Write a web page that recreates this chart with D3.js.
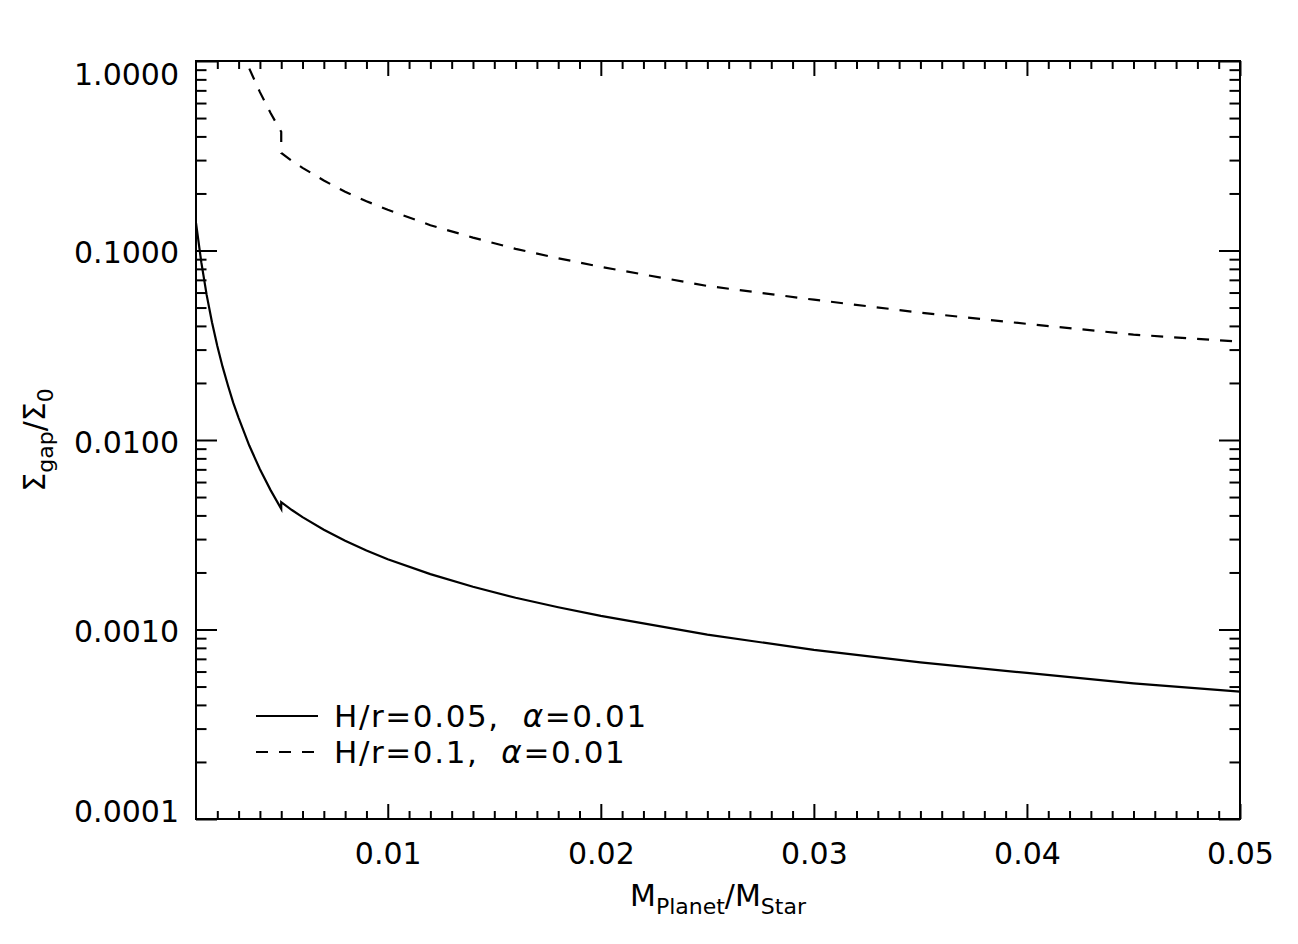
<!DOCTYPE html>
<html><head><meta charset="utf-8">
<script src="https://cdn.jsdelivr.net/npm/d3@7"></script>
<style>
body{margin:0;background:#fff}
text{font-family:"DejaVu Sans",sans-serif;fill:#000}
</style>
</head><body>
<svg id="chart" width="1298" height="944"></svg>
<script>
// ---- data ----
const qValues = [0.001,0.00125,0.0015,0.00175,0.002,0.00225,0.0025,0.00275,0.003,0.0035,0.004,0.0045,0.005,
                 0.005,0.0055,0.006,0.007,0.008,0.009,0.010,0.012,0.014,0.016,0.018,0.020,0.025,0.030,0.035,0.040,0.045,0.050];
const solidValues = [0.140,0.0865,0.0583,0.0418,0.0313,0.0243,0.0194,0.0157,0.0131,0.00935,0.00701,0.00544,0.00433,
                     0.00470,0.00427,0.00392,0.00336,0.00294,0.00261,0.00235,0.00196,0.00168,0.00147,0.00131,0.00118,0.00094,0.00078,0.00067,0.00059,0.00052,0.00047];
const dashedValues = [null,null,null,null,null,null,null,1.54,1.275,0.913,0.685,0.531,0.423,
                      0.327,0.297,0.273,0.234,0.204,0.182,0.164,0.136,0.117,0.102,0.091,0.082,0.065,0.055,0.047,0.041,0.036,0.033];
const xTickValues = [0.01,0.02,0.03,0.04,0.05];
const xTickLabels = ["0.01","0.02","0.03","0.04","0.05"];
const yTickValues = [0.0001,0.001,0.01,0.1,1];
const yTickLabels = ["0.0001","0.0010","0.0100","0.1000","1.0000"];
const legendPrefix = ["H/r=0.05,  ","H/r=0.1,  "];
const legendSuffix = ["=0.01","=0.01"];

// ---- layout ----
const L=196, R=1240, T=61, B=819;
const svg = d3.select("#chart");
const x = d3.scaleLinear().domain([0.001,0.05]).range([L,R]);
const y = d3.scaleLog().domain([0.0001,1]).range([B,T]);

const xMinor = d3.range(2,50).map(i=>i/1000).filter(v=>!xTickValues.some(t=>Math.abs(t-v)<1e-9));
const yMinor = [];
[0.0001,0.001,0.01,0.1].forEach(d=>{for(let k=2;k<=9;k++) yMinor.push(d*k);});

function styleAxis(g){
  g.select(".domain").remove();
  g.selectAll("line").attr("stroke","#000").attr("stroke-width",2);
}
// bottom
svg.append("g").attr("transform",`translate(0,${B})`)
  .call(d3.axisBottom(x).tickValues(xMinor).tickSize(-8).tickFormat("")).call(styleAxis);
const gxb = svg.append("g").attr("transform",`translate(0,${B})`)
  .call(d3.axisBottom(x).tickValues(xTickValues).tickSize(-15).tickPadding(24)
        .tickFormat((d,i)=>xTickLabels[i])).call(styleAxis);
gxb.selectAll("text").attr("font-size",30).attr("font-family","DejaVu Sans");
// top
svg.append("g").attr("transform",`translate(0,${T})`)
  .call(d3.axisTop(x).tickValues(xMinor).tickSize(-8).tickFormat("")).call(styleAxis);
svg.append("g").attr("transform",`translate(0,${T})`)
  .call(d3.axisTop(x).tickValues(xTickValues).tickSize(-15).tickFormat("")).call(styleAxis);
// left
svg.append("g").attr("transform",`translate(${L},0)`)
  .call(d3.axisLeft(y).tickValues(yMinor).tickSize(-10.5).tickFormat("")).call(styleAxis);
const gyl = svg.append("g").attr("transform",`translate(${L},0)`)
  .call(d3.axisLeft(y).tickValues(yTickValues).tickSize(-21).tickPadding(17)
        .tickFormat((d,i)=>yTickLabels[i])).call(styleAxis);
gyl.selectAll("text").attr("font-size",30).attr("font-family","DejaVu Sans").attr("dy","0.40em");
gyl.selectAll(".tick").filter(d=>d===1).select("text").attr("dy","0.78em");
gyl.selectAll(".tick").filter(d=>d===0.0001).select("text").attr("dy","0.08em");
// right
svg.append("g").attr("transform",`translate(${R},0)`)
  .call(d3.axisRight(y).tickValues(yMinor).tickSize(-10.5).tickFormat("")).call(styleAxis);
svg.append("g").attr("transform",`translate(${R},0)`)
  .call(d3.axisRight(y).tickValues(yTickValues).tickSize(-21).tickFormat("")).call(styleAxis);

// frame
svg.append("rect").attr("x",L).attr("y",T).attr("width",R-L).attr("height",B-T)
  .attr("fill","none").attr("stroke","#000").attr("stroke-width",2);

// clip
svg.append("clipPath").attr("id","clip").append("rect")
  .attr("x",L).attr("y",T).attr("width",R-L).attr("height",B-T);

const rows = qValues.map((q,i)=>({q, s:solidValues[i], d:dashedValues[i]}));
const lineS = d3.line().x(r=>x(r.q)).y(r=>y(r.s));
const lineD = d3.line().defined(r=>r.d!=null).x(r=>x(r.q)).y(r=>y(r.d));
const gp = svg.append("g").attr("clip-path","url(#clip)");
gp.append("path").attr("d",lineS(rows)).attr("fill","none").attr("stroke","#000").attr("stroke-width",2.2).attr("stroke-linejoin","miter");
gp.append("path").attr("d",lineD(rows)).attr("fill","none").attr("stroke","#000").attr("stroke-width",2.2).attr("stroke-dasharray","12,11");

// legend
const legY = [716, 752];
legY.forEach((ly,i)=>{
  svg.append("line").attr("x1",256).attr("x2",318).attr("y1",ly).attr("y2",ly)
    .attr("stroke","#000").attr("stroke-width",2.2).attr("stroke-dasharray", i===1?"12,11":null);
  const t = svg.append("text").attr("x",334).attr("y",ly+11).attr("font-size",31)
    .attr("letter-spacing",1.6).style("white-space","pre");
  t.append("tspan").text(legendPrefix[i]);
  t.append("tspan").attr("font-style","italic").text("α");
  t.append("tspan").text(legendSuffix[i]);
});

// axis titles
const xt = svg.append("text").attr("x",(L+R)/2).attr("y",906).attr("text-anchor","middle").attr("font-size",30);
xt.append("tspan").text("M");
xt.append("tspan").attr("font-size",22).attr("dy",8).text("Planet");
xt.append("tspan").attr("dy",-8).text("/M");
xt.append("tspan").attr("font-size",22).attr("dy",8).text("Star");

const yt = svg.append("text").attr("transform",`translate(45,${(T+B)/2}) rotate(-90)`)
  .attr("text-anchor","middle").attr("font-size",30);
yt.append("tspan").text("Σ");
yt.append("tspan").attr("font-size",22).attr("dy",8).text("gap");
yt.append("tspan").attr("dy",-8).text("/Σ");
yt.append("tspan").attr("font-size",22).attr("dy",8).text("0");
</script>
</body></html>
